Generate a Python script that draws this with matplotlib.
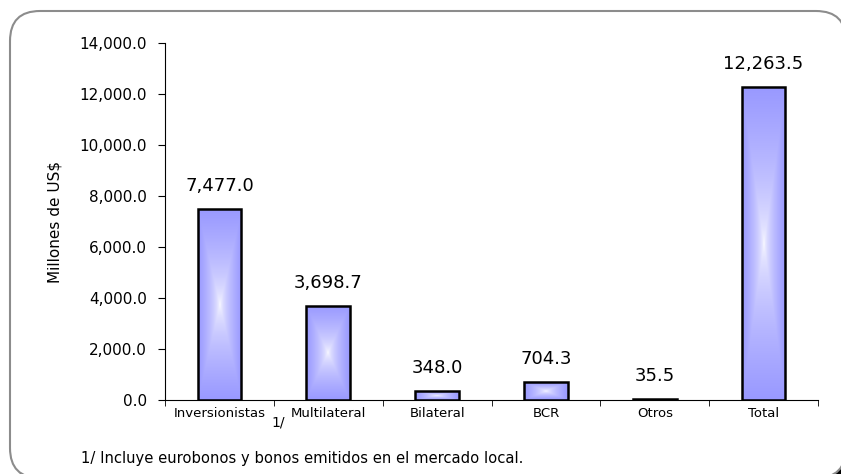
import matplotlib.pyplot as plt
import numpy as np
from matplotlib.patches import FancyBboxPatch
from matplotlib.colors import to_rgb

categories = ['Inversionistas', 'Multilateral', 'Bilateral', 'BCR', 'Otros', 'Total']
values = [7477.0, 3698.7, 348.0, 704.3, 35.5, 12263.5]
yticks = [0, 2000, 4000, 6000, 8000, 10000, 12000, 14000]
footnote = '1/ Incluye eurobonos y bonos emitidos en el mercado local.'

plt.rcParams['font.family'] = ['DejaVu Sans']

W, H = 841, 474
fig = plt.figure(figsize=(W / 100, H / 100), dpi=100)

# background frame drawn in pixel coords (runs off the bottom/right edge)
bg = fig.add_axes([0, 0, 1, 1], zorder=-1)
bg.set_xlim(0, W)
bg.set_ylim(H, 0)
bg.axis('off')
shadow = FancyBboxPatch((16, 17), 836, 467, boxstyle='round,pad=0,rounding_size=30',
                        fc='black', ec='black', lw=1.5)
frame = FancyBboxPatch((10, 11), 836, 467, boxstyle='round,pad=0,rounding_size=30',
                       fc='white', ec='#8c8c8c', lw=1.5)
bg.add_patch(shadow)
bg.add_patch(frame)

ax = fig.add_axes([165 / W, 1 - 400 / H, (818 - 165) / W, (400 - 43) / H])
ax.patch.set_alpha(0)

x = np.arange(len(categories))
width = 0.4
bars = ax.bar(x, values, width=width, facecolor='none', edgecolor='black', lw=1.8, zorder=3)

# rectangular "from centre" gradient fill
blue = np.array(to_rgb('#9999ff'))
white = np.ones(3)
n = 200
u = np.linspace(-1, 1, n)
uu, vv = np.meshgrid(u, u)
t = np.maximum(np.abs(uu), np.abs(vv)) ** 0.55
grad = white[None, None, :] * (1 - t[..., None]) + blue[None, None, :] * t[..., None]

for b in bars:
    x0 = b.get_x()
    h = b.get_height()
    im = ax.imshow(grad, extent=(x0, x0 + width, 0, h), aspect='auto', zorder=2,
                   interpolation='bilinear')
    im.set_clip_path(b)

for xi, v in zip(x, values):
    ax.annotate(f'{v:,.1f}', (xi, v), xytext=(0, 10), textcoords='offset points',
                ha='center', va='bottom', fontsize=13)

ax.set_xlim(-0.5, len(categories) - 0.5)
ax.set_ylim(0, 14000)
ax.set_yticks(yticks)
ax.set_yticklabels([f'{v:,.1f}' for v in yticks], fontsize=11)
ax.set_xticks(x)
ax.set_xticklabels(categories, fontsize=9.5)
ax.set_xticks(np.arange(-0.5, len(categories), 1), minor=True)
ax.tick_params(axis='x', which='major', length=0, pad=5)
ax.tick_params(axis='x', which='minor', length=4, direction='out')
ax.tick_params(axis='y', length=5, pad=8)
ax.spines['top'].set_visible(False)
ax.spines['right'].set_visible(False)
ax.set_ylabel('Millones de US$', fontsize=11)
ax.yaxis.set_label_coords(-(165 - 62) / (818 - 165), 0.5)

fig.text(278 / W, 1 - 423 / H, '1/', ha='center', va='center', fontsize=10)
fig.text(81 / W, 1 - 459 / H, footnote, ha='left', va='center', fontsize=10.6)

fig.savefig('out.png', dpi=100)
